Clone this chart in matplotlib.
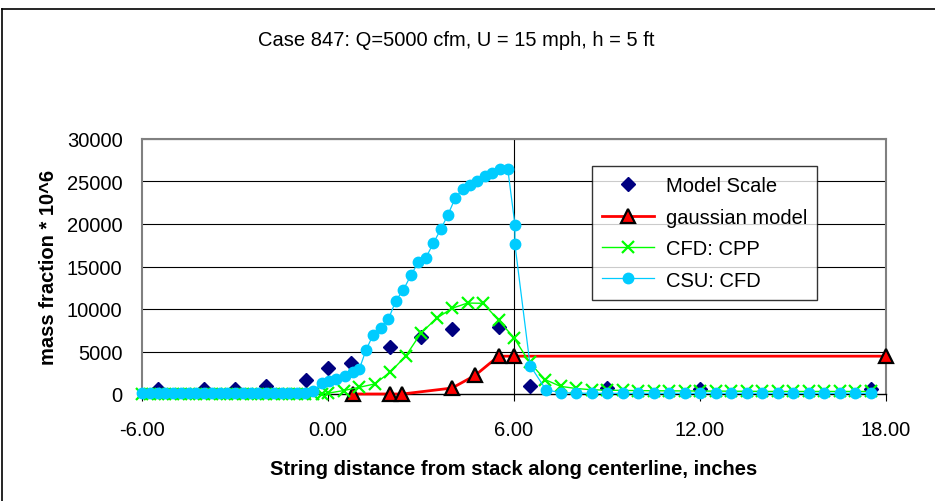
import matplotlib
matplotlib.use("Agg")
import matplotlib.pyplot as plt
from matplotlib.lines import Line2D

plt.rcParams['font.family'] = ['Liberation Sans', 'DejaVu Sans']

# --- Data ---
model_x = [-5.5, -4.0, -3.0, -2.0, -0.7, 0.0, 0.75, 2.0, 3.0, 4.0, 5.5, 6.5, 9.0, 12.0, 17.5]
model_y = [600, 600, 600, 1000, 1700, 3050, 3700, 5500, 6700, 7600, 7900, 1000, 700, 600, 600]

gauss_x = [0.8, 2.0, 2.4, 4.0, 4.75, 5.5, 6.0, 18.0]
gauss_y = [0, 0, 0, 700, 2200, 4450, 4450, 4450]

cpp_x = [-6.0, -5.75, -5.5, -5.25, -5.0, -4.75, -4.5, -4.25, -4.0, -3.75, -3.5, -3.25,
         -3.0, -2.75, -2.5, -2.25, -2.0, -1.75, -1.5, -1.25, -1.0, -0.75, -0.5, -0.2,
         0.0, 0.5, 1.0, 1.5, 2.0, 2.5, 3.0, 3.5, 4.0, 4.5, 5.0, 5.5, 6.0, 6.5, 7.0,
         7.5, 8.0, 8.5, 9.0, 9.5, 10.0, 10.5, 11.0, 11.5, 12.0, 12.5, 13.0, 13.5,
         14.0, 14.5, 15.0, 15.5, 16.0, 16.5, 17.0, 17.5]
cpp_y = [0, 0, 0, 0, 0, 0, 0, 0, 0, 0, 0, 0,
         0, 0, 0, 0, 0, 0, 0, 0, 0, 0, 0, 0,
         100, 400, 780, 1180, 2550, 4430, 7170, 8900, 10080, 10700, 10670, 8700, 6600, 3730, 1700,
         900, 650, 500, 450, 420, 400, 380, 370, 360, 350, 340, 330, 320,
         310, 300, 300, 300, 300, 300, 300, 300]

csu_x = [-6.0, -5.75, -5.5, -5.25, -5.0, -4.75, -4.5, -4.25, -4.0, -3.75, -3.5, -3.25,
         -3.0, -2.75, -2.5, -2.25, -2.0, -1.75, -1.5, -1.25, -1.0, -0.75, -0.5,
         -0.2, 0.03, 0.26, 0.55, 0.8, 1.01, 1.23, 1.46, 1.7, 1.95, 2.19, 2.43, 2.68,
         2.91, 3.16, 3.4, 3.64, 3.87, 4.11, 4.35, 4.58, 4.82, 5.06, 5.3, 5.55, 5.8,
         6.03, 6.03, 6.52, 7.03, 7.5, 8.0, 8.5, 9.0, 9.5, 10.0, 10.5, 11.0, 11.5,
         12.0, 12.5, 13.0, 13.5, 14.0, 14.5, 15.0, 15.5, 16.0, 16.5, 17.0, 17.5]
csu_y = [100, 100, 100, 100, 100, 100, 100, 100, 100, 100, 100, 100,
         100, 100, 100, 100, 100, 100, 100, 100, 100, 100, 300,
         1250, 1500, 1760, 2150, 2550, 2940, 5200, 7000, 7750, 8800, 11000, 12250, 14000,
         15500, 16050, 17750, 19400, 21100, 23100, 24100, 24600, 25100, 25600, 26050, 26500, 26450,
         19900, 17600, 3350, 500, 150, 100, 80, 80, 80, 80, 80, 80, 80,
         80, 80, 80, 80, 80, 80, 80, 80, 80, 80, 80, 80]

x_ticks = [-6, 0, 6, 12, 18]
x_tick_labels = ['-6.00', '0.00', '6.00', '12.00', '18.00']
y_ticks = [0, 5000, 10000, 15000, 20000, 25000, 30000]

FS = 14.5

fig = plt.figure(figsize=(9.35, 5.02), dpi=100)
ax = fig.add_axes([142 / 935, 1 - 395 / 502, 744 / 935, 255 / 502])

# grid + vertical line at x = 6
for yv in y_ticks[1:]:
    ax.axhline(yv, color='black', lw=0.8, zorder=1)
ax.axvline(6, color='black', lw=0.8, zorder=1)

ax.plot(model_x, model_y, linestyle='none', marker='D', markersize=7.2,
        color='#000080', label='Model Scale', zorder=3, clip_on=False)
ax.plot(gauss_x, gauss_y, color='#ff0000', lw=2.0, marker='^', markersize=9.5,
        markerfacecolor='#ff0000', markeredgecolor='black', markeredgewidth=1.6,
        label='gaussian model', zorder=4, clip_on=False)
ax.plot(cpp_x, cpp_y, color='#00ff00', lw=1.0, marker='x', markersize=8,
        markeredgewidth=1.6, label='CFD: CPP', zorder=5, clip_on=False)
ax.plot(csu_x, csu_y, color='#00ccff', lw=0.9, marker='o', markersize=7.5,
        markeredgecolor='#00ccff', label='CSU: CFD', zorder=6, clip_on=False)

ax.set_xlim(-6, 18)
ax.set_ylim(0, 30000)
ax.set_xticks(x_ticks)
ax.set_xticklabels(x_tick_labels)
ax.set_yticks(y_ticks)
ax.tick_params(axis='x', direction='out', length=5, width=0.8, pad=14, labelsize=FS)
ax.tick_params(axis='y', length=0, pad=14, labelsize=FS)

for side in ['left', 'top', 'right']:
    ax.spines[side].set_color('#808080')
    ax.spines[side].set_linewidth(1.5)
ax.spines['bottom'].set_color('black')
ax.spines['bottom'].set_linewidth(1.0)

ax.set_xlabel('String distance from stack along centerline, inches',
              fontsize=FS, fontweight='bold', labelpad=14)
ax.set_ylabel('mass fraction * 10^6', fontsize=FS, fontweight='bold', labelpad=6)

leg = ax.legend(loc='upper left', bbox_to_anchor=(592 / 935, 1 - 167 / 502),
                bbox_transform=fig.transFigure, fontsize=FS, frameon=True,
                fancybox=False, borderaxespad=0, borderpad=0.5,
                handlelength=2.6, handletextpad=0.55, labelspacing=0.62)
leg.get_frame().set_edgecolor('black')
leg.get_frame().set_linewidth(1.0)
leg.set_zorder(10)

fig.text(456 / 935, 1 - 40 / 502, 'Case 847: Q=5000 cfm, U = 15 mph, h = 5 ft',
         ha='center', va='center', fontsize=FS)

# chart border (top and left edges visible)
fig.add_artist(Line2D([2 / 935, 1.0], [1 - 10 / 502, 1 - 10 / 502],
                      transform=fig.transFigure, color='black', lw=1.2))
fig.add_artist(Line2D([2 / 935, 2 / 935], [0.0, 1 - 10 / 502],
                      transform=fig.transFigure, color='black', lw=1.2))

fig.savefig('out.png', dpi=100)
